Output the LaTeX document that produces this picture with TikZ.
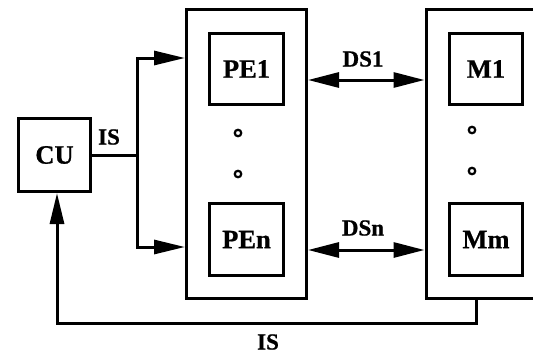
\documentclass[tikz,border=0pt]{standalone}
\usepackage{fontspec}
\setmainfont{Liberation Serif}[BoldFeatures={FakeBold=0.8}]
\usetikzlibrary{arrows.meta}
\begin{document}
\begin{tikzpicture}[x=1pt,y=-1pt,
  box/.style={draw,line width=3pt,inner sep=0pt,font=\fontsize{26.5}{28}\selectfont\bfseries},
  lbl/.style={inner sep=0pt,font=\fontsize{23}{25}\selectfont\bfseries},
  conn/.style={line width=3pt},
  arr/.style={line width=3pt,-{Triangle[length=31pt,width=14pt]}},
  darr/.style={line width=3pt,{Triangle[length=31pt,width=15pt]}-{Triangle[length=31pt,width=15pt]}},
  dot/.style={draw,circle,line width=2.2pt,minimum size=6.5pt,inner sep=0pt}]
\useasboundingbox (0,0) rectangle (533,356);
\node[box,minimum width=72pt,minimum height=73pt] (CU) at (54.5,155) {CU};
\node[box,minimum width=120pt,minimum height=289pt] (PE) at (246.5,154) {};
\node[box,minimum width=74pt,minimum height=71pt] (PE1) at (246.5,69) {PE1};
\node[box,minimum width=74pt,minimum height=72pt] (PEn) at (246.5,239.5) {PEn};
\node[box,minimum width=134pt,minimum height=289pt] (M) at (493,154) {};
\node[box,minimum width=73pt,minimum height=71pt] (M1) at (486,69) {M1};
\node[box,minimum width=73pt,minimum height=72pt] (Mm) at (486,239.5) {Mm};
\node[dot] (d1) at (238,133) {};
\node[dot] (d2) at (238,174) {};
\node[dot] (d3) at (472,130) {};
\node[dot] (d4) at (472,171) {};
\coordinate (jt) at (137,58);
\coordinate (jb) at (137,247);
\coordinate (ds1) at (0,80);
\coordinate (dsn) at (0,250);
\coordinate (br) at (476,323);
\coordinate (bl) at (57,323);
\draw[conn] (CU.east) -- (CU.east -| jt);
\draw[arr] (jt |- CU.east) -- (jt) -- (jt -| PE.west);
\draw[arr] (jt |- CU.east) -- (jb) -- (jb -| PE.west);
\draw[darr] (PE.east |- ds1) -- (M.west |- ds1);
\draw[darr] (PE.east |- dsn) -- (M.west |- dsn);
\draw[arr] (M.south -| br) -- (br) -- (bl) -- (CU.south -| bl);
\node[lbl] (is1) at (109,137) {IS};
\node[lbl] (lds1) at (363,59) {DS1};
\node[lbl] (ldsn) at (363,228) {DSn};
\node[lbl] (is2) at (268,342) {IS};
\end{tikzpicture}
\end{document}
